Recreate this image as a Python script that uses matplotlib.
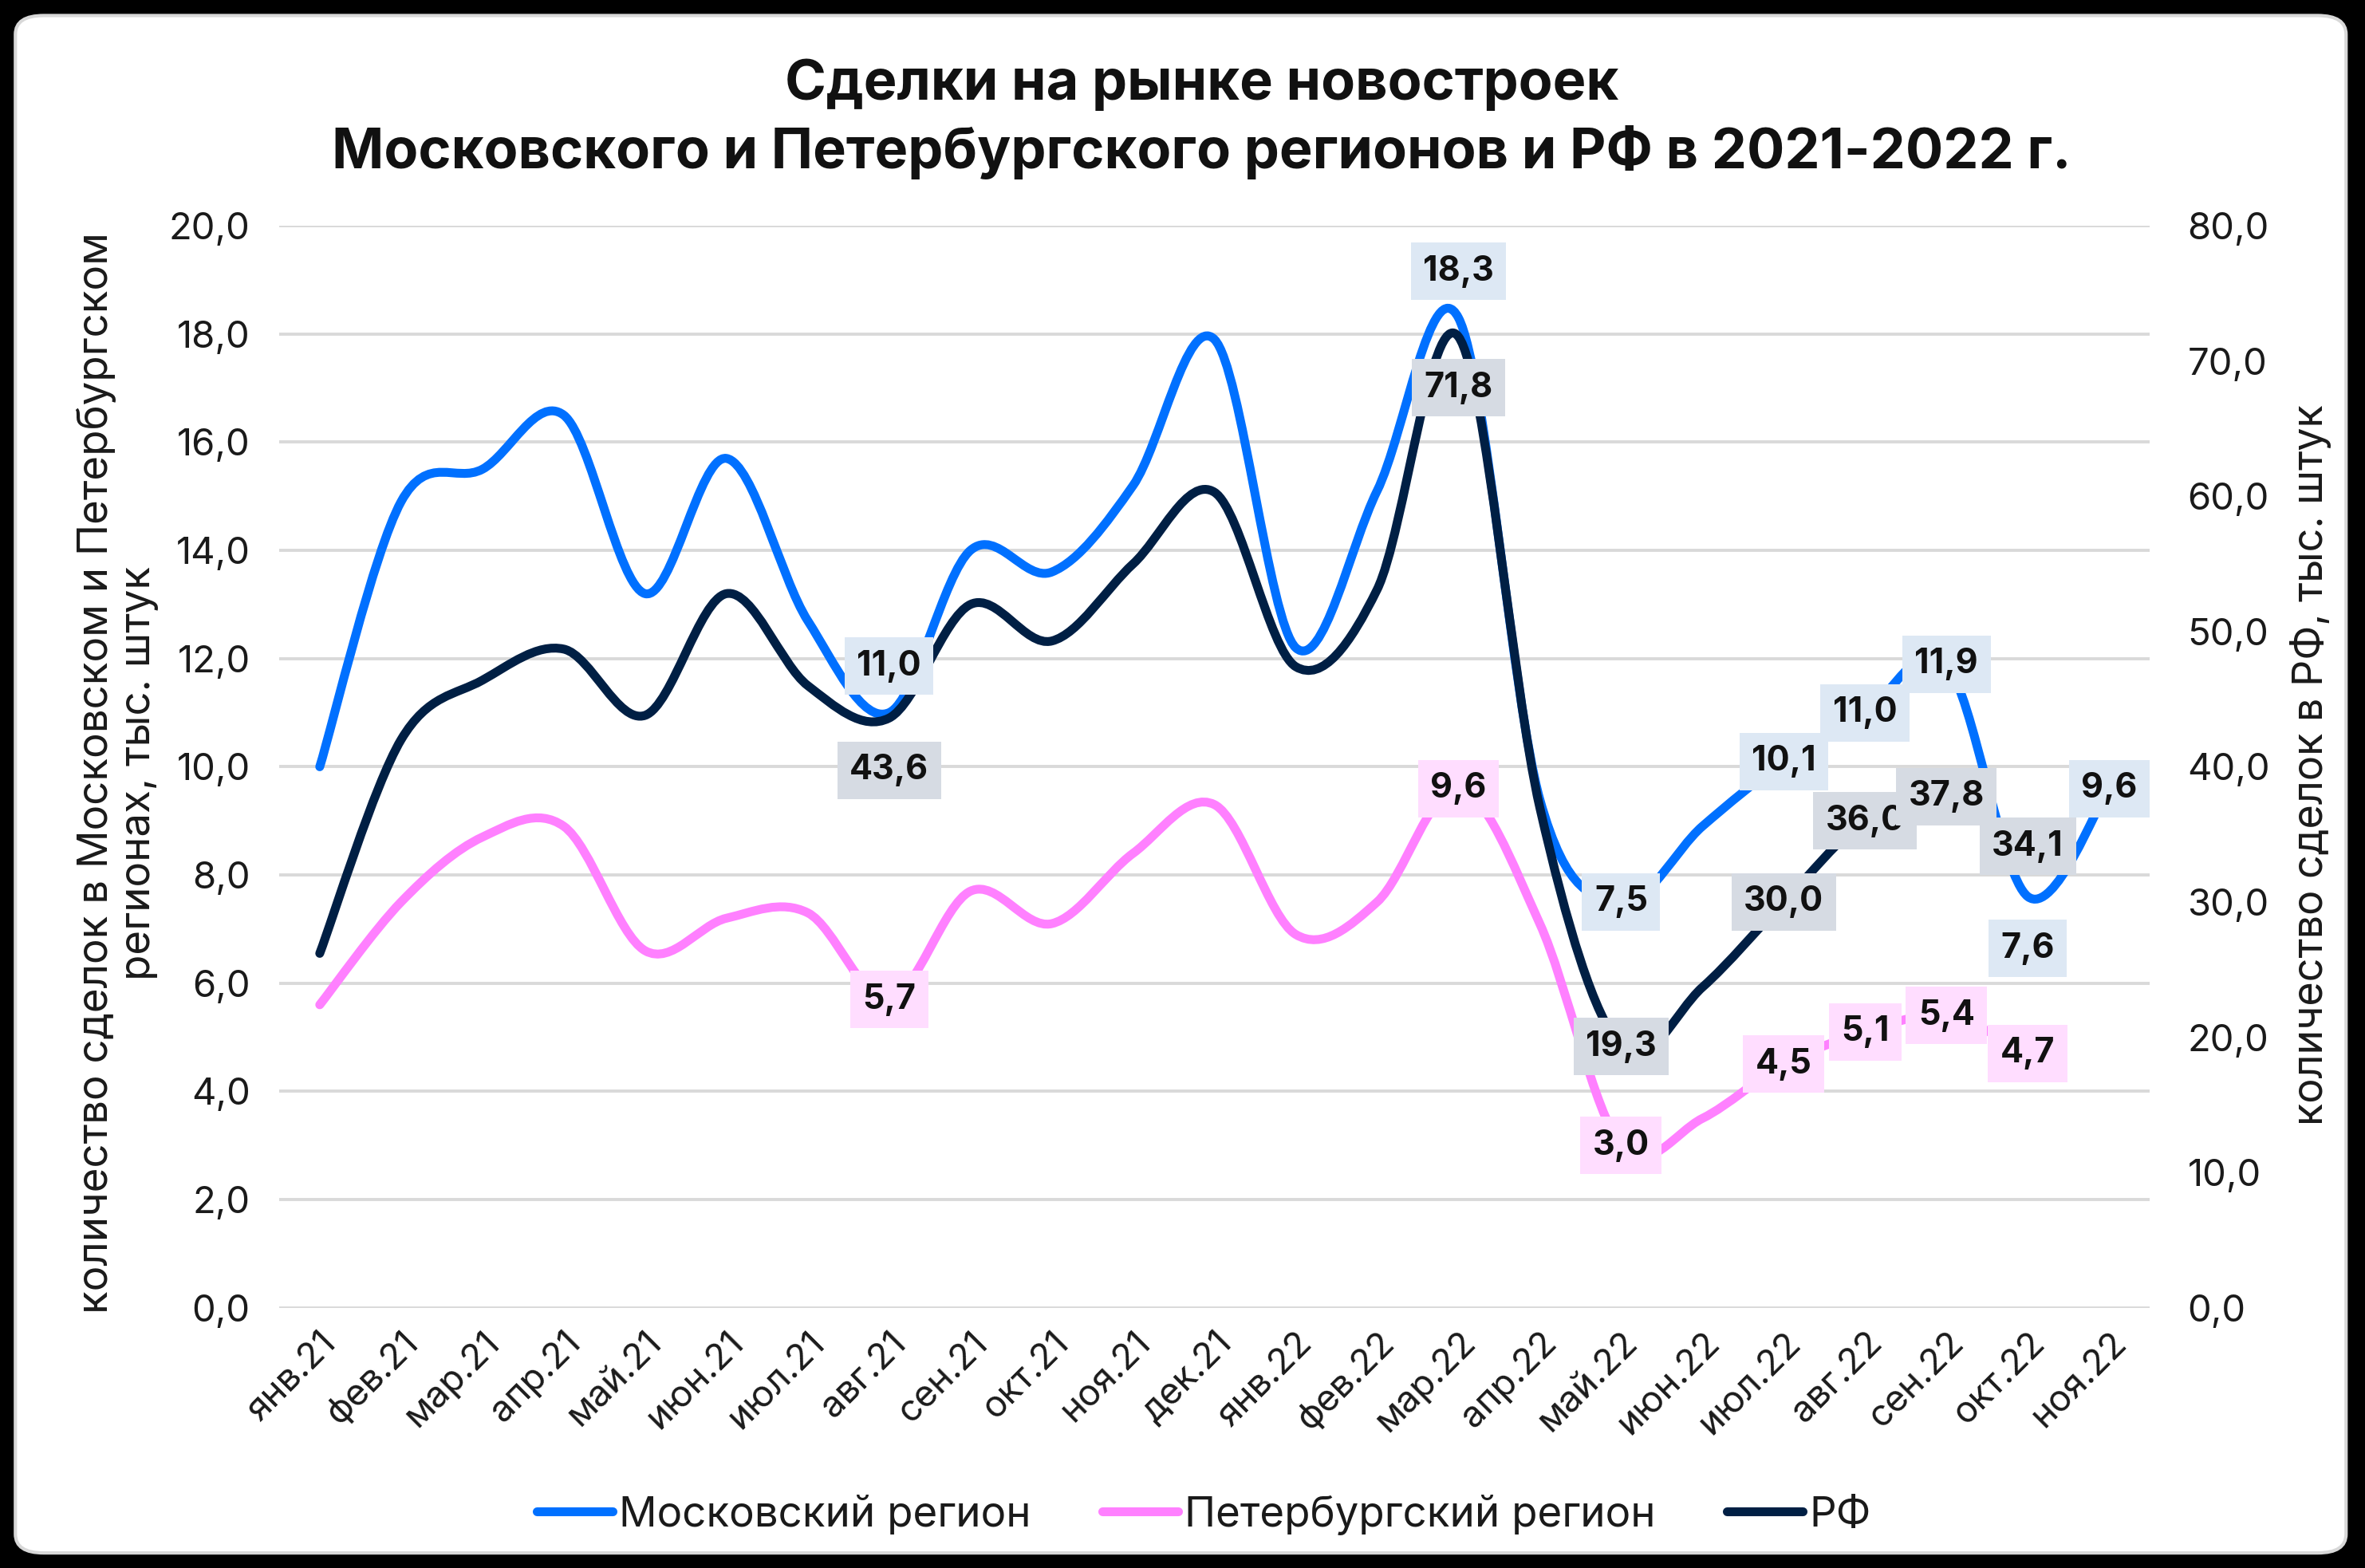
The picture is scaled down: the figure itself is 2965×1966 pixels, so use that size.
import matplotlib
matplotlib.use("Agg")
import matplotlib.pyplot as plt
from matplotlib.path import Path
from matplotlib.patches import PathPatch, FancyBboxPatch
from matplotlib.lines import Line2D
from matplotlib.ticker import FuncFormatter

plt.rcParams['font.family'] = ['Inter', 'DejaVu Sans']

months = ['янв.21', 'фев.21', 'мар.21', 'апр.21', 'май.21', 'июн.21', 'июл.21', 'авг.21',
          'сен.21', 'окт.21', 'ноя.21', 'дек.21', 'янв.22', 'фев.22', 'мар.22', 'апр.22',
          'май.22', 'июн.22', 'июл.22', 'авг.22', 'сен.22', 'окт.22', 'ноя.22']

moscow = [10.0, 14.9, 15.5, 16.5, 13.2, 15.7, 12.7, 11.0, 14.0, 13.6, 15.2, 17.9,
          12.2, 15.1, 18.3, 9.4, 7.5, 8.9, 10.1, 11.0, 11.9, 7.6, 9.6]
spb = [5.6, 7.5, 8.7, 8.9, 6.6, 7.2, 7.3, 5.7, 7.7, 7.1, 8.4, 9.3,
       6.9, 7.5, 9.6, 7.1, 3.0, 3.5, 4.5, 5.1, 5.4, 4.7, None]
rf = [26.2, 42.0, 46.4, 48.7, 43.8, 52.8, 46.0, 43.6, 52.0, 49.3, 55.0, 60.3,
      47.4, 53.1, 71.8, 37.0, 19.3, 23.7, 30.0, 36.0, 37.8, 34.1, None]

series_names = ['Московский регион', 'Петербургский регион', 'РФ']

# which points carry a data label
moscow_lab = [7, 14, 16, 18, 19, 20, 21, 22]
spb_lab = [7, 14, 16, 18, 19, 20, 21]
rf_lab = [7, 14, 16, 18, 19, 20, 21]

c_msk = '#0070ff'
c_spb = '#ff80ff'
c_rf = '#001f44'


def smooth_patch(xs, ys, color, lw):
    # excel-like smoothed line: cubic bezier through the points
    pts = [(x, y) for x, y in zip(xs, ys) if y is not None]
    verts = [pts[0]]
    codes = [Path.MOVETO]
    n = len(pts)
    for i in range(n - 1):
        p0 = pts[i - 1] if i > 0 else pts[i]
        p1 = pts[i]
        p2 = pts[i + 1]
        p3 = pts[i + 2] if i + 2 < n else pts[i + 1]
        c1 = (p1[0] + (p2[0] - p0[0]) / 6, p1[1] + (p2[1] - p0[1]) / 6)
        c2 = (p2[0] - (p3[0] - p1[0]) / 6, p2[1] - (p3[1] - p1[1]) / 6)
        verts += [c1, c2, p2]
        codes += [Path.CURVE4] * 3
    return PathPatch(Path(verts, codes), fill=False, edgecolor=color, lw=lw,
                     capstyle='round', joinstyle='round')


fmt = FuncFormatter(lambda v, _: f'{v:.1f}'.replace('.', ','))

fig = plt.figure(figsize=(29.65, 19.66), dpi=100, facecolor='black')
panel = FancyBboxPatch((0.0065, 0.0096), 0.9855, 0.9805,
                       boxstyle='round,pad=0,rounding_size=0.012',
                       transform=fig.transFigure, fc='white', ec='#d8d8d8', lw=3, zorder=-5)
fig.patches.append(panel)

ax = fig.add_axes([0.118, 0.166, 0.791, 0.690])
ax.set_facecolor('none')
ax2 = ax.twinx()
ax2.set_facecolor('none')

x = list(range(len(months)))
ax.add_patch(smooth_patch(x, spb, c_spb, 8))
ax.add_patch(smooth_patch(x, moscow, c_msk, 8))
ax2.add_patch(smooth_patch(x, rf, c_rf, 8))

ax.set_xlim(-0.5, len(months) - 0.5)
ax.set_ylim(0, 20)
ax2.set_ylim(0, 80)
ax.set_yticks(range(0, 21, 2))
ax2.set_yticks(range(0, 81, 10))
ax.yaxis.set_major_formatter(fmt)
ax2.yaxis.set_major_formatter(fmt)
ax.grid(axis='y', color='#d9d9d9', lw=2.8)
ax.set_axisbelow(True)
for a in (ax, ax2):
    for s in a.spines.values():
        s.set_visible(False)
ax.tick_params(axis='y', length=0, pad=26, labelsize=34, labelcolor='#1a1a1a')
ax2.tick_params(axis='y', length=0, pad=34, labelsize=34, labelcolor='#1a1a1a')
ax.set_xticks(x)
ax.set_xticklabels(months, rotation=45, ha='right', rotation_mode='anchor')
ax.tick_params(axis='x', length=0, pad=16, labelsize=33, labelcolor='#1a1a1a')

box = dict(boxstyle='square,pad=0.36', ec='none')


def put_labels(vals, idxs, trans, fc, offsets, fmt_str):
    for i in idxs:
        dy = offsets.get(i, 0)
        ax2.annotate(fmt_str(vals[i]), (i, vals[i]), xycoords=trans,
                     xytext=(0, dy), textcoords='offset points',
                     ha='center', va='center', fontsize=31, fontweight='bold',
                     color='#111111', bbox=dict(box, fc=fc), zorder=10)


lab = lambda v: f'{v:.1f}'.replace('.', ',')
put_labels(spb, spb_lab, ax.transData, '#ffddff', {}, lab)
put_labels(moscow, moscow_lab, ax.transData, '#dde8f4', {7: 42, 14: 42, 21: -47}, lab)
put_labels(rf, rf_lab, ax2.transData, '#d6dbe3', {7: -47, 14: -46}, lab)

fig.text(0.508, 0.946, 'Сделки на рынке новостроек', ha='center', va='center',
         fontsize=50.5, fontweight='bold', color='#111111')
fig.text(0.508, 0.903, 'Московского и Петербургского регионов и РФ в 2021-2022 г.',
         ha='center', va='center', fontsize=50.5, fontweight='bold', color='#111111')

fig.text(0.0497, 0.507, 'количество сделок в Московском и Петербургском\nрегионах, тыс. штук',
         rotation=90, ha='center', va='center', fontsize=38, color='#1a1a1a',
         multialignment='center', linespacing=1.1)
fig.text(0.977, 0.512, 'количество сделок в РФ, тыс. штук', rotation=90,
         ha='center', va='center', fontsize=37.5, color='#1a1a1a')

handles = [Line2D([], [], color=c, lw=8, solid_capstyle='round') for c in (c_msk, c_spb, c_rf)]
fig.legend(handles, series_names, loc='center', bbox_to_anchor=(0.509, 0.034), ncol=3,
           frameon=False, fontsize=38, handlelength=1.8, handletextpad=0.15,
           columnspacing=1.7, labelcolor='#1a1a1a')

fig.savefig('out.png', dpi=100, facecolor=fig.get_facecolor())
